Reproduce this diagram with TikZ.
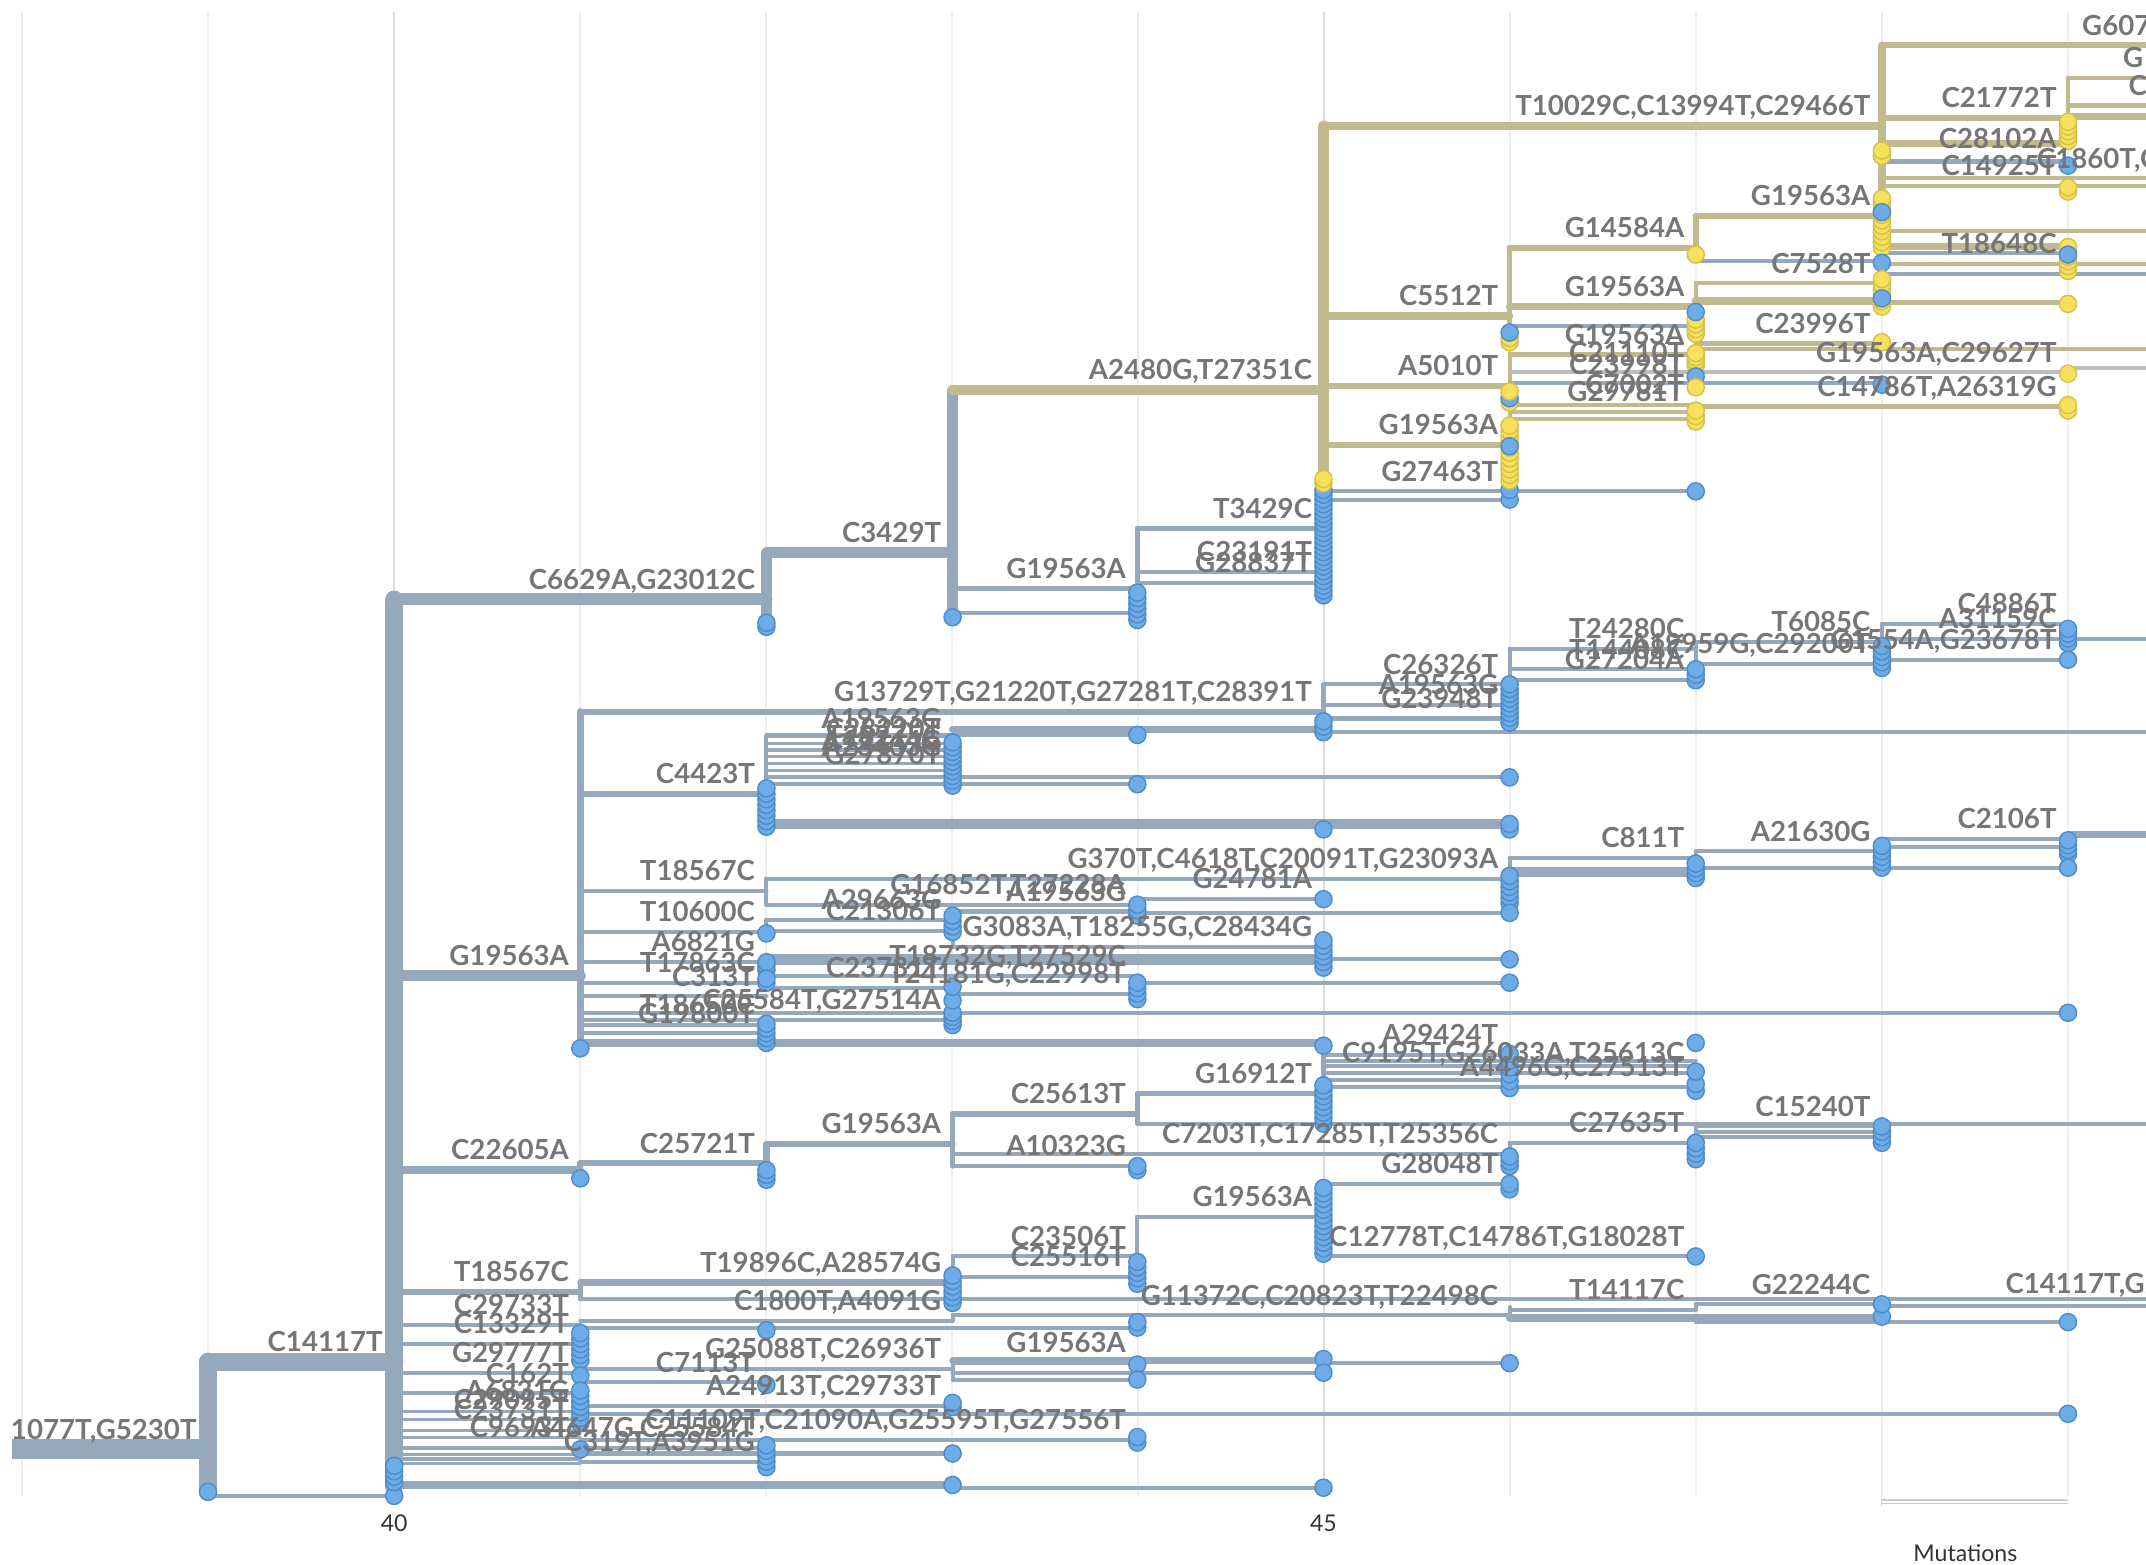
\documentclass[tikz,border=0pt]{standalone}
\usepackage{fontspec}
\usepackage{tikz}
\newfontfamily\latofont{Lato}

\definecolor{branchblue}{HTML}{96A8BC}
\definecolor{branchkhaki}{HTML}{C2BA8F}
\definecolor{branchgray}{HTML}{BDBDBD}
\definecolor{tipblue}{HTML}{6EACE8}
\definecolor{tipblueline}{HTML}{4F8CCB}
\definecolor{tipyellow}{HTML}{F7E15C}
\definecolor{tipyellowline}{HTML}{D6C14A}
\definecolor{labelgray}{HTML}{767676}
\definecolor{gridminor}{HTML}{EEEEEE}
\definecolor{gridmajor}{HTML}{DCDCDC}
\definecolor{scaleline}{HTML}{C3CFDA}

\newcommand\mutfont{\latofont\bfseries\fontsize{11.5}{12}\selectfont}
\newcommand\axisfont{\latofont\fontsize{9.6}{11}\selectfont}

\tikzset{
  bbr/.style={draw=branchblue, line width=#1},
  bbr/.default=1.7pt,
  kbr/.style={draw=branchkhaki, line width=#1},
  kbr/.default=1.7pt,
  gbr/.style={draw=branchgray, line width=#1},
  gbr/.default=1.7pt,
  tipb/.style={fill=tipblue, draw=tipblueline, line width=0.6pt},
  tipy/.style={fill=tipyellow, draw=tipyellowline, line width=0.6pt},
  mut/.style={anchor=base east, xshift=-0.16cm, yshift=0.15cm, inner sep=0pt,
    text=labelgray, font=\mutfont},
  mutl/.style={anchor=base west, inner sep=0pt, text=labelgray, font=\mutfont},
  axislab/.style={inner sep=0pt, text=black!80, font=\axisfont},
  gridline/.style={draw=gridminor, line width=0.6pt},
}

\newcommand\tipsb[2]{\foreach \ty in {#2} \filldraw[tipb] (#1,\ty) circle[radius=\tr];}
\newcommand\tipsy[2]{\foreach \ty in {#2} \filldraw[tipy] (#1,\ty) circle[radius=\tr];}

\begin{document}
\begin{tikzpicture}[x=0.02cm, y=-0.02cm, line cap=round, line join=round]
  \def\tr{0.125cm}
  \useasboundingbox (0,0) rectangle (1568,1143);
  \clip (0,0) rectangle (1568,1143);

  % grid and axis
  \foreach \k in {38,39,41,42,43,44,46,47,48,49}
    \draw[gridline] ({287.9+135.9*(\k-40)},9) -- ({287.9+135.9*(\k-40)},1093);
  \foreach \k in {40,45}
    \draw[gridline, draw=gridmajor, line width=0.9pt] ({287.9+135.9*(\k-40)},9) -- ({287.9+135.9*(\k-40)},1093);
  \node[axislab] (tick40) at (288,1113) {40};
  \node[axislab] (tick45) at (967,1113) {45};
  \node[axislab] (axisname) at (1436,1135) {Mutations};
  \draw[scaleline, line width=0.5pt, line cap=butt] (1375,1096) -- (1511,1096);
  \draw[scaleline, line width=0.5pt, line cap=butt] (1375,1098.5) -- (1511,1098.5);
  \draw[scaleline, line width=0.5pt, line cap=butt] (1375,1094.5) -- (1375,1100);

  % root and main spine
  \draw[bbr=8.4pt, line cap=butt] (9,1059) -- (152,1059);
  \draw[bbr=7.6pt] (152,995) -- (152,1090);
  \draw[bbr=7.6pt] (152,995) -- (288,995);
  \draw[bbr] (152,1093) -- (288,1093);
  \draw[bbr=7.4pt] (288,438) -- (288,1086);

  % C6629A clade
  \draw[bbr=5pt] (288,438) -- (560,438);
  \draw[bbr=4.6pt] (560,404) -- (560,455);
  \draw[bbr=4.6pt] (560,404) -- (696,404);
  \draw[bbr=4.3pt] (696,285) -- (696,451);
  \draw[bbr=2.2pt] (696,430) -- (831,430);
  \draw[bbr] (696,448) -- (831,448);
  \draw[bbr=2.2pt] (831,386) -- (831,430);
  \draw[bbr=2.2pt] (831,386) -- (967,386);
  \draw[bbr] (831,418) -- (967,418);
  \draw[bbr] (831,426) -- (967,426);
  \draw[kbr=4.3pt] (696,285) -- (967,285);

  % khaki clade
  \draw[kbr=4.5pt] (967,92) -- (967,350);
  \draw[kbr=3.3pt] (967,92) -- (1375,92);
  \draw[kbr=3.1pt] (967,231) -- (1103,231);
  \draw[kbr=2.3pt] (967,282) -- (1103,282);
  \draw[kbr=2.3pt] (967,325) -- (1103,325);
  \draw[bbr] (967,359) -- (1239,359);
  \draw[bbr] (967,365) -- (1103,365);
  % T10029C node
  \draw[kbr=3.1pt] (1375,33) -- (1375,221);
  \draw[kbr=2.6pt] (1375,33) -- (1568,33);
  \draw[kbr=2.6pt] (1375,86) -- (1511,86);
  \draw[kbr=2pt] (1511,57) -- (1511,86);
  \draw[kbr=2pt] (1511,57) -- (1568,57);
  \draw[kbr=2pt] (1511,77) -- (1568,77);
  \draw[kbr=3pt] (1511,85) -- (1568,85);
  \draw[kbr=3pt] (1375,105) -- (1511,105);
  \draw[bbr] (1375,118) -- (1511,118);
  \draw[kbr] (1375,130) -- (1568,130);
  \draw[kbr] (1375,136) -- (1568,136);
  \draw[kbr] (1375,169) -- (1568,169);
  \draw[kbr=3pt] (1375,180) -- (1511,180);
  \draw[bbr] (1375,185) -- (1511,185);
  \draw[kbr] (1375,193) -- (1568,193);
  \draw[bbr] (1375,200) -- (1568,200);
  \draw[kbr] (1375,221) -- (1511,221);
  % C5512T node
  \draw[kbr=2.3pt] (1103,181) -- (1103,241);
  \draw[kbr=2.6pt] (1103,181) -- (1239,181);
  \draw[kbr=2.3pt] (1239,158) -- (1239,181);
  \draw[kbr=2.6pt] (1239,158) -- (1375,158);
  \draw[bbr] (1239,191) -- (1375,191);
  \draw[kbr=3.1pt] (1103,224) -- (1239,224);
  \draw[kbr] (1239,207) -- (1239,224);
  \draw[kbr] (1239,207) -- (1375,207);
  \draw[kbr=3.5pt] (1239,220) -- (1375,220);
  \draw[bbr] (1103,238) -- (1239,238);
  \draw[kbr] (1239,251) -- (1375,251);
  % A5010T node
  \draw[kbr] (1103,258) -- (1103,306);
  \draw[kbr] (1103,259) -- (1239,259);
  \draw[kbr] (1239,255) -- (1568,255);
  \draw[gbr] (1103,272) -- (1511,272);
  \draw[gbr] (1511,269) -- (1568,269);
  \draw[bbr] (1103,280) -- (1375,280);
  \draw[kbr] (1103,296) -- (1239,296);
  \draw[kbr] (1239,297) -- (1511,297);
  \draw[kbr] (1103,301) -- (1239,301);
  \draw[kbr] (1103,306) -- (1239,306);

  % G19563A clade (middle)
  \draw[bbr=4.6pt] (288,713) -- (424,713);
  \draw[bbr=3pt] (424,520) -- (424,766);
  \draw[bbr=2.4pt] (424,520) -- (967,520);
  \draw[bbr] (967,500) -- (967,528);
  \draw[bbr] (967,500) -- (1103,500);
  \draw[bbr] (967,515) -- (1103,515);
  \draw[bbr] (967,525) -- (1103,525);
  \draw[bbr] (967,535) -- (1568,535);
  \draw[bbr] (1103,474) -- (1103,497);
  \draw[bbr] (1103,474) -- (1239,474);
  \draw[bbr] (1103,489) -- (1239,489);
  \draw[bbr] (1103,497) -- (1239,497);
  \draw[bbr] (1239,469) -- (1239,485);
  \draw[bbr] (1239,469) -- (1375,469);
  \draw[bbr] (1239,485) -- (1375,485);
  \draw[bbr] (1375,456) -- (1375,482);
  \draw[bbr] (1375,456) -- (1511,456);
  \draw[bbr] (1375,467) -- (1568,467);
  \draw[bbr] (1375,482) -- (1511,482);
  % C4423T node
  \draw[bbr=2.6pt] (424,580) -- (560,580);
  \draw[bbr] (560,538) -- (560,604);
  \foreach \yy in {538,543,548,553,558,563}
    \draw[bbr=1.3pt] (560,\yy) -- (696,\yy);
  \draw[bbr=3pt] (696,533) -- (967,533);
  \draw[bbr] (560,537) -- (831,537);
  \draw[bbr] (560,568) -- (1103,568);
  \draw[bbr] (560,573) -- (831,573);
  \draw[bbr=4pt] (560,602) -- (1103,602);
  % T18567C node (middle)
  \draw[bbr] (424,651) -- (560,651);
  \draw[bbr] (560,642) -- (560,661);
  \draw[bbr] (560,642) -- (1103,642);
  \draw[bbr] (1103,627) -- (1103,642);
  \draw[bbr] (1103,627) -- (1239,627);
  \draw[bbr=4pt] (1103,637) -- (1239,637);
  \draw[bbr] (1239,622) -- (1239,637);
  \draw[bbr] (1239,622) -- (1375,622);
  \draw[bbr] (1375,613) -- (1375,622);
  \draw[bbr] (1375,613) -- (1511,613);
  \draw[bbr=3pt] (1511,610) -- (1568,610);
  \draw[bbr] (1375,619) -- (1511,619);
  \draw[bbr] (1239,634) -- (1511,634);
  \draw[bbr] (560,661) -- (831,661);
  \draw[bbr] (831,657) -- (831,666);
  \draw[bbr] (831,657) -- (967,657);
  \draw[bbr] (696,666) -- (831,666);
  \draw[bbr] (831,667) -- (1103,667);
  % T10600C node
  \draw[bbr] (424,681) -- (560,681);
  \draw[bbr] (560,672) -- (560,681);
  \draw[bbr] (560,672) -- (696,672);
  \draw[bbr] (560,680) -- (696,680);
  \draw[bbr] (696,666) -- (696,692);
  \draw[bbr] (696,692) -- (967,692);
  \draw[bbr=4.6pt] (560,701) -- (967,701);
  \draw[bbr] (967,701) -- (1103,701);
  \draw[bbr] (424,703) -- (560,703);
  \draw[bbr] (560,713) -- (831,713);
  \draw[bbr] (424,718) -- (560,718);
  \draw[bbr] (560,722) -- (696,722);
  \draw[bbr] (696,726) -- (831,726);
  \draw[bbr] (831,718) -- (1103,718);
  \draw[bbr] (424,728) -- (560,728);
  \draw[bbr] (424,740) -- (1511,740);
  \draw[bbr] (424,745) -- (696,745);
  \draw[bbr] (424,749) -- (560,749);
  \draw[bbr] (424,755) -- (560,755);
  \draw[bbr=3pt] (424,762) -- (967,762);

  % C22605A clade
  \draw[bbr=3.1pt] (288,855) -- (424,855);
  \draw[bbr=2.6pt] (424,850) -- (424,860);
  \draw[bbr=2.6pt] (424,850) -- (560,850);
  \draw[bbr=2.6pt] (560,836) -- (560,855);
  \draw[bbr=2.6pt] (560,836) -- (696,836);
  \draw[bbr=2.2pt] (696,814) -- (696,852);
  \draw[bbr=2.2pt] (696,814) -- (831,814);
  \draw[bbr] (696,843) -- (1103,843);
  \draw[bbr] (696,852) -- (831,852);
  \draw[bbr=2pt] (831,799) -- (831,821);
  \draw[bbr=2pt] (831,799) -- (967,799);
  \draw[bbr] (831,821) -- (1568,821);
  \draw[bbr] (967,771) -- (967,799);
  \draw[bbr] (967,771) -- (1103,771);
  \draw[bbr] (967,775) -- (1239,775);
  \draw[bbr] (967,779) -- (1239,779);
  \draw[bbr] (967,784) -- (1239,784);
  \draw[bbr] (967,789) -- (1103,789);
  \draw[bbr] (967,794) -- (1239,794);
  \draw[bbr] (1103,835) -- (1103,843);
  \draw[bbr] (1103,835) -- (1239,835);
  \draw[bbr] (1239,823) -- (1239,835);
  \draw[bbr] (1239,823) -- (1375,823);
  \draw[bbr] (1239,827) -- (1375,827);
  \draw[bbr] (1239,831) -- (1375,831);
  \draw[bbr] (967,865) -- (967,918);
  \draw[bbr] (967,865) -- (1103,865);
  \draw[bbr] (967,918) -- (1239,918);

  % T18567C node (bottom) and the small branches
  \draw[bbr=2.2pt] (288,944) -- (424,944);
  \draw[bbr=2.2pt] (424,937) -- (424,949);
  \draw[bbr=2.6pt] (424,937) -- (696,937);
  \draw[bbr] (696,918) -- (696,937);
  \draw[bbr] (696,918) -- (831,918);
  \draw[bbr] (696,933) -- (831,933);
  \draw[bbr] (831,889) -- (831,918);
  \draw[bbr] (831,889) -- (967,889);
  \draw[bbr] (424,949) -- (1568,949);
  \draw[bbr] (288,968) -- (424,968);
  \draw[bbr] (424,965) -- (696,965);
  \draw[bbr] (696,961) -- (696,965);
  \draw[bbr] (696,961) -- (1103,961);
  \draw[bbr] (1103,955) -- (1103,963);
  \draw[bbr] (1103,957) -- (1239,957);
  \draw[bbr=3pt] (1103,963) -- (1375,963);
  \draw[bbr] (1239,953) -- (1239,957);
  \draw[bbr] (1239,953) -- (1375,953);
  \draw[bbr] (1375,954) -- (1568,954);
  \draw[bbr] (1239,966) -- (1511,966);
  \draw[bbr] (424,970) -- (831,970);
  \draw[bbr] (288,982) -- (424,982);
  \draw[bbr] (288,1003) -- (424,1003);
  \draw[bbr] (424,1000) -- (696,1000);
  \draw[bbr] (696,994) -- (696,1008);
  \draw[bbr] (696,996) -- (831,996);
  \draw[bbr=2.6pt] (696,994) -- (967,994);
  \draw[bbr] (967,996) -- (1103,996);
  \draw[bbr] (696,1003) -- (967,1003);
  \draw[bbr] (696,1008) -- (831,1008);
  \draw[bbr] (288,1018) -- (424,1018);
  \draw[bbr] (424,1010) -- (560,1010);
  \draw[bbr] (424,1027) -- (696,1027);
  \foreach \yy in {1031,1037,1045,1050,1058,1063,1066,1069}
    \draw[bbr=1.3pt] (288,\yy) -- (424,\yy);
  \draw[bbr] (424,1033) -- (1511,1033);
  \draw[bbr] (424,1052) -- (831,1052);
  \draw[bbr] (424,1058) -- (560,1058);
  \draw[bbr] (424,1062) -- (696,1062);
  \draw[bbr] (424,1068) -- (560,1068);
  \draw[bbr=3pt] (288,1085) -- (696,1085);
  \draw[bbr] (696,1087) -- (967,1087);

  % tips
  \tipsb{152}{1090}
  \tipsb{288}{1093,1083,1079,1075,1071}
  \tipsb{560}{458,455}
  \tipsb{696}{451}
  \tipsb{831}{453,449,...,433}
  \tipsb{967}{435,431.5,...,357}
  \tipsy{967}{353,350}
  \tipsb{1103}{365,358}
  \tipsb{1239}{359}
  \tipsy{1511}{103,99.5,...,88}
  \tipsb{1511}{121}
  \tipsy{1375}{114,110}
  \tipsy{1511}{140,137}
  \tipsy{1375}{181,177,...,143}
  \tipsb{1375}{155}
  \tipsy{1511}{198,194.5,...,179}
  \tipsb{1511}{186}
  \tipsy{1239}{186}
  \tipsb{1375}{192}
  \tipsy{1375}{224,220,...,204}
  \tipsb{1375}{218}
  \tipsy{1511}{222}
  \tipsy{1239}{244,240.5,...,231}
  \tipsb{1239}{228}
  \tipsy{1103}{250,247}
  \tipsb{1103}{243}
  \tipsy{1375}{250}
  \tipsy{1239}{267,264,261,258}
  \tipsb{1239}{275}
  \tipsy{1239}{283}
  \tipsy{1239}{308,304,300}
  \tipsy{1511}{300,296}
  \tipsy{1511}{273}
  \tipsb{1375}{281}
  \tipsy{1103}{294}
  \tipsb{1103}{291}
  \tipsy{1103}{286}
  \tipsy{1103}{351,347,...,308}
  \tipsb{1103}{326}
  % middle tips
  \tipsb{1103}{528,524.5,...,500}
  \tipsb{967}{535,531,527}
  \tipsb{1239}{497,493,489}
  \tipsb{1375}{488,484,...,472}
  \tipsb{1511}{470,466.5,...,459}
  \tipsb{1511}{482}
  \tipsb{560}{604,600,...,576}
  \tipsb{696}{574,570.5,...,540}
  \tipsb{831}{573,537}
  \tipsb{1103}{606,602,568}
  \tipsb{967}{606}
  \tipsb{1103}{660,656,...,640}
  \tipsb{1239}{641.5,638,634.5,631}
  \tipsb{1375}{634,630,...,618}
  \tipsb{1511}{624,621,617.5,614}
  \tipsb{1511}{634}
  \tipsb{831}{669,665,661}
  \tipsb{967}{657}
  \tipsb{1103}{667}
  \tipsb{696}{681,677,673,669}
  \tipsb{560}{682}
  \tipsb{967}{707,703,...,687}
  \tipsb{1103}{701}
  \tipsb{560}{709,706,703}
  \tipsb{560}{718,715}
  \tipsb{831}{730,726,...,716}
  \tipsb{1103}{718}
  \tipsb{696}{749,746,743,740,731,721}
  \tipsb{560}{762,758.5,...,748}
  \tipsb{1511}{740}
  \tipsb{424}{766}
  \tipsb{967}{764}
  % lower tips
  \tipsb{1103}{795,790,...,770}
  \tipsb{1239}{797,792,783,762}
  \tipsb{967}{821,817,...,792}
  \tipsb{424}{861}
  \tipsb{560}{862,858.5,855}
  \tipsb{831}{855,852}
  \tipsb{1103}{852,848.5,845}
  \tipsb{1103}{869,865}
  \tipsb{1239}{847,843,...,832}
  \tipsb{1375}{835,831,...,822}
  \tipsb{967}{916,912,...,867}
  \tipsb{1239}{918}
  \tipsb{696}{952,948,...,932}
  \tipsb{831}{938,934,...,921}
  \tipsb{424}{994,990,...,972}
  \tipsb{424}{1005}
  \tipsb{424}{1040,1036,...,1015}
  \tipsb{424}{1059}
  \tipsb{1375}{962,953}
  \tipsb{1511}{966}
  \tipsb{831}{970,966}
  \tipsb{560}{972}
  \tipsb{831}{997,1008}
  \tipsb{967}{993,1003}
  \tipsb{1103}{996}
  \tipsb{560}{1012}
  \tipsb{696}{1028,1025}
  \tipsb{1511}{1033}
  \tipsb{831}{1054,1050}
  \tipsb{560}{1072,1068,...,1056}
  \tipsb{696}{1062,1085}
  \tipsb{967}{1087}

  % mutation labels
  \node[mut] at (152,1059) {1077T,G5230T};
  \node[mut] at (288,995) {C14117T};
  \node[mut] at (560,438) {C6629A,G23012C};
  \node[mut] at (696,404) {C3429T};
  \node[mut] at (967,285) {A2480G,T27351C};
  \node[mut] at (831,430) {G19563A};
  \node[mut] at (967,386) {T3429C};
  \node[mut] at (967,418) {C23191T};
  \node[mut] at (967,426) {G28837T};
  \node[mut] at (1375,92) {T10029C,C13994T,C29466T};
  \node[mut] at (1103,231) {C5512T};
  \node[mut] at (1103,282) {A5010T};
  \node[mut] at (1103,325) {G19563A};
  \node[mut] at (1103,359) {G27463T};
  \node[mutl] at (1521,26) {G607};
  \node[mutl] at (1551,49) {G};
  \node[mutl] at (1555,70) {C};
  \node[mut] at (1511,86) {C21772T};
  \node[mut] at (1511,116) {C28102A};
  \node[mutl] at (1488,123) {C1860T,C};
  \node[mut] at (1511,136) {C14925T};
  \node[mut] at (1511,193) {T18648C};
  \node[mut] at (1239,181) {G14584A};
  \node[mut] at (1375,158) {G19563A};
  \node[mut] at (1375,207) {C7528T};
  \node[mut] at (1239,224) {G19563A};
  \node[mut] at (1375,251) {C23996T};
  \node[mut] at (1239,259) {G19563A};
  \node[mut] at (1239,272) {C21110T};
  \node[mut] at (1239,281) {C23998T};
  \node[mut] at (1239,296) {C7002T};
  \node[mut] at (1239,301) {G29781T};
  \node[mut] at (1511,272) {G19563A,C29627T};
  \node[mut] at (1511,297) {C14786T,A26319G};
  % middle labels
  \node[mut] at (424,713) {G19563A};
  \node[mut] at (967,520) {G13729T,G21220T,G27281T,C28391T};
  \node[mut] at (1103,500) {C26326T};
  \node[mut] at (1103,515) {A19563G};
  \node[mut] at (1103,525) {G23948T};
  \node[mut] at (1239,474) {T24280C};
  \node[mut] at (1239,489) {T14408C};
  \node[mut] at (1239,497) {G27204A};
  \node[mut] at (1375,469) {T6085C};
  \node[mut] at (1375,485) {A19959G,C29200T};
  \node[mut] at (1511,456) {C4886T};
  \node[mut] at (1511,467) {A31159C};
  \node[mut] at (1511,482) {G1554A,G23678T};
  \node[mut] at (560,580) {C4423T};
  \node[mut] at (696,540) {A19563G};
  \node[mut] at (696,547) {C28220T};
  \node[mut] at (696,552) {T28275C};
  \node[mut] at (696,556) {A12244G};
  \node[mut] at (696,560) {A23403G};
  \node[mut] at (696,566) {G27870T};
  \node[mut] at (560,651) {T18567C};
  \node[mut] at (1103,642) {G370T,C4618T,C20091T,G23093A};
  \node[mut] at (1239,627) {C811T};
  \node[mut] at (1375,622) {A21630G};
  \node[mut] at (1511,613) {C2106T};
  \node[mut] at (831,661) {G16852T,T27228A};
  \node[mut] at (967,657) {G24781A};
  \node[mut] at (831,666) {A19563G};
  \node[mut] at (696,672) {A29663G};
  \node[mut] at (696,680) {C21306T};
  \node[mut] at (560,681) {T10600C};
  \node[mut] at (967,692) {G3083A,T18255G,C28434G};
  \node[mut] at (560,703) {A6821G};
  \node[mut] at (831,713) {T18732G,T27529C};
  \node[mut] at (560,718) {T17863C};
  \node[mut] at (696,722) {C23731T};
  \node[mut] at (831,726) {T24181G,C22998T};
  \node[mut] at (560,728) {C313T};
  \node[mut] at (696,745) {C25584T,G27514A};
  \node[mut] at (560,749) {T18650C};
  \node[mut] at (560,755) {G19800T};
  % lower labels
  \node[mut] at (424,855) {C22605A};
  \node[mut] at (560,850) {C25721T};
  \node[mut] at (696,836) {G19563A};
  \node[mut] at (831,814) {C25613T};
  \node[mut] at (1103,843) {C7203T,C17285T,T25356C};
  \node[mut] at (831,852) {A10323G};
  \node[mut] at (967,799) {G16912T};
  \node[mut] at (1103,771) {A29424T};
  \node[mut] at (1239,784) {C9195T,G26033A,T25613C};
  \node[mut] at (1239,794) {A4496G,C27513T};
  \node[mut] at (1239,835) {C27635T};
  \node[mut] at (1375,823) {C15240T};
  \node[mut] at (1103,865) {G28048T};
  \node[mut] at (967,889) {G19563A};
  \node[mut] at (1239,918) {C12778T,C14786T,G18028T};
  \node[mut] at (831,918) {C23506T};
  \node[mut] at (831,933) {C25516T};
  \node[mut] at (696,937) {T19896C,A28574G};
  \node[mut] at (424,944) {T18567C};
  \node[mut] at (424,968) {C29733T};
  \node[mut] at (696,965) {C1800T,A4091G};
  \node[mut] at (1103,961) {G11372C,C20823T,T22498C};
  \node[mut] at (1239,957) {T14117C};
  \node[mut] at (1375,953) {G22244C};
  \node[mutl] at (1465,945) {C14117T,G2};
  \node[mut] at (424,982) {C13329T};
  \node[mut] at (424,1003) {G29777T};
  \node[mut] at (696,1000) {G25088T,C26936T};
  \node[mut] at (831,996) {G19563A};
  \node[mut] at (424,1018) {C162T};
  \node[mut] at (560,1010) {C7113T};
  \node[mut] at (696,1027) {A24913T,C29733T};
  \node[mut] at (424,1031) {A6831G};
  \node[mut] at (424,1037) {C29095T};
  \node[mut] at (424,1045) {C23731T};
  \node[mut] at (424,1058) {C9693T};
  \node[mut] at (560,1058) {A4647G,C25584T};
  \node[mut] at (831,1052) {C11109T,C21090A,G25595T,G27556T};
  \node[mut] at (560,1068) {C319T,A3951G};
\end{tikzpicture}
\end{document}
